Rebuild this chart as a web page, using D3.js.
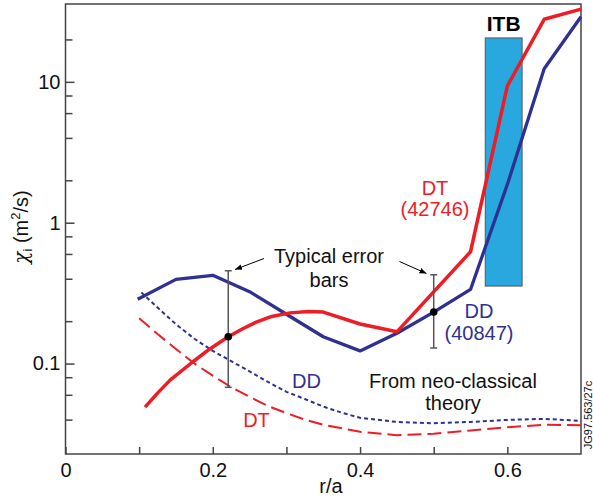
<!DOCTYPE html>
<html><head><meta charset="utf-8">
<script src="https://cdn.jsdelivr.net/npm/d3@7"></script>
<style>
body{margin:0;background:#fff;}
text{font-family:"Liberation Sans",Arial,sans-serif;}
</style></head>
<body><svg id="c" width="593" height="499"></svg>
<script>
// ---- data ----
const ddX   = [0.098,0.15,0.2,0.25,0.3,0.35,0.4,0.45,0.5,0.55,0.6,0.65,0.7];
const ddY   = [0.286,0.396,0.423,0.324,0.224,0.155,0.123,0.164,0.232,0.336,1.87,12.4,29];
const dtX   = [0.108,0.125,0.142,0.173,0.195,0.221,0.24,0.26,0.28,0.305,0.33,0.35,0.4,0.45,0.55,0.6,0.65,0.7];
const dtY   = [0.049,0.0617,0.0763,0.103,0.126,0.155,0.176,0.198,0.216,0.229,0.234,0.232,0.191,0.168,0.622,9.35,27.8,32.8];
const ncDDX = [0.103,0.125,0.15,0.175,0.2,0.225,0.25,0.275,0.3,0.325,0.35,0.375,0.4,0.45,0.5,0.55,0.6,0.65,0.7];
const ncDDY = [0.32,0.25,0.19,0.15,0.123,0.104,0.088,0.074,0.063,0.056,0.0495,0.0448,0.0412,0.0385,0.0377,0.0385,0.0398,0.0405,0.0392];
const ncDTX = [0.1,0.125,0.15,0.175,0.2,0.225,0.25,0.275,0.3,0.325,0.35,0.4,0.45,0.5,0.55,0.6,0.65,0.7];
const ncDTY = [0.21,0.162,0.127,0.1,0.082,0.068,0.058,0.05,0.0445,0.04,0.0368,0.0328,0.031,0.0318,0.0335,0.0353,0.0368,0.0365];
const errX  = [0.221,0.5];
const errMid= [0.155,0.232];
const errLo = [0.0678,0.129];
const errHi = [0.456,0.427];
const itbX  = [0.57,0.62];
const itbY  = [0.355,20.5];
const xTicks = [0,0.2,0.4,0.6];
const xMinor = [0.1,0.3,0.5];
const yTicks = [0.1,1,10];
const yMinor = [0.04,0.06,0.08,0.2,0.4,0.6,0.8,2,4,6,8,20];

const RED="#ee1c25", BLUE="#2e3192", AX="#444";
const svg=d3.select("#c");
const x=d3.scaleLinear().domain([0,0.7]).range([65.5,581]);
const y=d3.scaleLog().domain([0.0228,35.7]).range([454,4]);
const FS=20;

// ITB bar
svg.append("rect").attr("x",x(itbX[0])).attr("y",y(itbY[1]))
  .attr("width",x(itbX[1])-x(itbX[0])).attr("height",y(itbY[0])-y(itbY[1]))
  .attr("fill","#29a8e0").attr("stroke","#555").attr("stroke-width",1);
svg.append("text").attr("x",(x(itbX[0])+x(itbX[1]))/2).attr("y",y(itbY[1])-7)
  .attr("text-anchor","middle").attr("font-size",21).attr("font-weight","bold").text("ITB");

// frame
svg.append("rect").attr("x",x(0)).attr("y",y(35.7)).attr("width",x(0.7)-x(0)).attr("height",y(0.0228)-y(35.7))
  .attr("fill","none").attr("stroke",AX).attr("stroke-width",1.5);

// axes
const gx=svg.append("g").attr("transform",`translate(0,${y(0.0228)})`)
  .call(d3.axisBottom(x).tickValues(xTicks.concat(xMinor)).tickSize(-7).tickPadding(9)
  .tickFormat(d=>xTicks.includes(d)?(d===0?"0":d3.format(".1f")(d)):""));
const gy=svg.append("g").attr("transform",`translate(${x(0)},0)`)
  .call(d3.axisLeft(y).tickValues(yTicks).tickSize(-9).tickPadding(-3).tickFormat(d=>String(d)));
svg.append("g").attr("transform",`translate(${x(0)},0)`)
  .call(d3.axisLeft(y).tickValues(yMinor).tickSize(-7).tickFormat(""));
svg.selectAll(".domain").remove();
svg.selectAll(".tick line").attr("stroke",AX).attr("stroke-width",1.5);
svg.selectAll(".tick text").attr("font-size",FS).attr("fill","#111").attr("font-family","Liberation Sans, Arial, sans-serif");
gy.selectAll(".tick text").attr("x",-5).attr("text-anchor","end");

// lines
const line=(xs,ys)=>d3.line().x((d,i)=>x(xs[i])).y((d,i)=>y(ys[i]))(xs);
svg.append("path").attr("d",line(ncDTX,ncDTY)).attr("fill","none").attr("stroke",RED).attr("stroke-width",2).attr("stroke-dasharray","14,6");
svg.append("path").attr("d",line(ncDDX,ncDDY)).attr("fill","none").attr("stroke",BLUE).attr("stroke-width",2).attr("stroke-dasharray","4,3");
svg.append("path").attr("d",line(ddX,ddY)).attr("fill","none").attr("stroke",BLUE).attr("stroke-width",3.3).attr("stroke-linejoin","round");
svg.append("path").attr("d",line(dtX,dtY)).attr("fill","none").attr("stroke",RED).attr("stroke-width",3.5).attr("stroke-linejoin","round");

// error bars
errX.forEach((v,i)=>{
  const g=svg.append("g").attr("stroke","#555").attr("stroke-width",1.5);
  g.append("line").attr("x1",x(v)).attr("x2",x(v)).attr("y1",y(errLo[i])).attr("y2",y(errHi[i]));
  [errLo[i],errHi[i]].forEach(e=>g.append("line").attr("x1",x(v)-3.5).attr("x2",x(v)+3.5).attr("y1",y(e)).attr("y2",y(e)));
  svg.append("circle").attr("cx",x(v)).attr("cy",y(errMid[i])).attr("r",3.8).attr("fill","#000");
});

// arrows
svg.append("defs").append("marker").attr("id","ah").attr("viewBox","0 0 10 10").attr("refX",10).attr("refY",5)
  .attr("markerWidth",7).attr("markerHeight",7).attr("orient","auto").attr("markerUnits","userSpaceOnUse")
  .append("path").attr("d","M0,1 L10,5 L0,9 Z").attr("fill","#000");
svg.append("line").attr("x1",264).attr("y1",258.5).attr("x2",235).attr("y2",269.5).attr("stroke","#000").attr("stroke-width",1).attr("marker-end","url(#ah)");
svg.append("line").attr("x1",399.5).attr("y1",261.5).attr("x2",426.5).attr("y2",273.5).attr("stroke","#000").attr("stroke-width",1).attr("marker-end","url(#ah)");

// texts
function txt(xp,yp,s,col,anchor){return svg.append("text").attr("x",xp).attr("y",yp).attr("font-size",FS).attr("fill",col||"#111").attr("text-anchor",anchor||"middle").text(s);}
txt(329,263,"Typical error");
txt(329,287,"bars");
txt(435,195,"DT",RED);
txt(435,216,"(42746)",RED);
txt(479,318,"DD",BLUE);
txt(479,340,"(40847)",BLUE);
txt(306.5,387.5,"DD",BLUE);
txt(256.5,427,"DT",RED);
txt(453,387.5,"From neo-classical");
txt(453,409.5,"theory");
txt(331,493,"r/a");

// y label
const yl=svg.append("text").attr("transform","translate(28,227) rotate(-90)").attr("text-anchor","middle").attr("font-size",FS).attr("fill","#111");
yl.append("tspan").attr("font-style","italic").attr("font-family","DejaVu Serif, serif").text("χ");
yl.append("tspan").attr("font-size",13).attr("dy",4).text("i");
yl.append("tspan").attr("dy",-4).text(" (m");
yl.append("tspan").attr("font-size",13).attr("dy",-8).text("2");
yl.append("tspan").attr("dy",8).text("/s)");

// code
svg.append("text").attr("transform","translate(592,415) rotate(-90)").attr("text-anchor","middle").attr("font-size",11).attr("fill","#111").text("JG97.563/27c");
</script></body></html>
